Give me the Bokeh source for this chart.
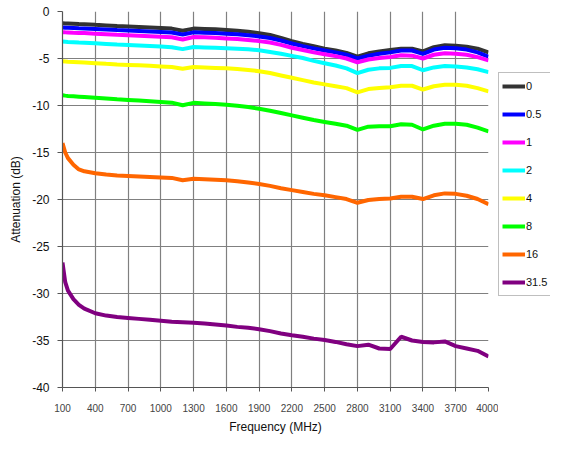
from bokeh.plotting import figure
from bokeh.layouts import row
from bokeh.models import FixedTicker, Legend, LegendItem, ColumnDataSource
from bokeh.embed import file_html
from bokeh.resources import INLINE

freq = [100, 125, 150, 200, 250, 300, 400, 500, 600, 700, 800, 900, 1000, 1100,
        1200, 1300, 1400, 1500, 1600, 1700, 1800, 1900, 2000, 2100, 2200, 2300,
        2400, 2500, 2600, 2700, 2800, 2900, 3000, 3100, 3200, 3300, 3400, 3500,
        3600, 3700, 3800, 3900, 4000]

att_0 = [-1.25, -1.27, -1.28, -1.30, -1.33, -1.35, -1.42, -1.48, -1.55, -1.60, -1.65,
         -1.70, -1.76, -1.82, -2.05, -1.82, -1.85, -1.90, -1.97, -2.05, -2.15, -2.30,
         -2.50, -2.80, -3.15, -3.45, -3.70, -3.95, -4.15, -4.40, -4.80, -4.45, -4.25,
         -4.10, -3.95, -3.95, -4.25, -3.80, -3.60, -3.65, -3.75, -3.95, -4.35]
att_05 = [-1.70, -1.72, -1.73, -1.75, -1.78, -1.80, -1.86, -1.92, -1.98, -2.03, -2.08,
          -2.13, -2.18, -2.24, -2.45, -2.22, -2.25, -2.30, -2.36, -2.43, -2.52, -2.65,
          -2.82, -3.08, -3.40, -3.68, -3.92, -4.15, -4.35, -4.60, -5.00, -4.70, -4.50,
          -4.35, -4.15, -4.15, -4.50, -4.05, -3.85, -3.90, -4.05, -4.35, -4.80]
att_1 = [-2.20, -2.22, -2.23, -2.26, -2.28, -2.30, -2.36, -2.42, -2.48, -2.53, -2.58,
         -2.63, -2.68, -2.74, -2.98, -2.72, -2.75, -2.80, -2.86, -2.93, -3.02, -3.15,
         -3.30, -3.55, -3.85, -4.10, -4.35, -4.55, -4.75, -5.00, -5.40, -5.10, -4.95,
         -4.85, -4.65, -4.70, -5.00, -4.60, -4.45, -4.50, -4.60, -4.85, -5.20]
att_2 = [-3.20, -3.22, -3.24, -3.27, -3.30, -3.32, -3.38, -3.45, -3.52, -3.57, -3.62,
         -3.67, -3.72, -3.80, -4.00, -3.78, -3.82, -3.86, -3.90, -3.95, -4.02, -4.12,
         -4.30, -4.50, -4.72, -4.95, -5.25, -5.50, -5.75, -6.05, -6.55, -6.20, -6.05,
         -6.00, -5.80, -5.80, -6.25, -5.95, -5.80, -5.85, -5.95, -6.15, -6.45]
att_4 = [-5.30, -5.32, -5.34, -5.37, -5.40, -5.43, -5.50, -5.57, -5.63, -5.68, -5.73,
         -5.78, -5.84, -5.90, -6.10, -5.90, -5.95, -6.00, -6.05, -6.12, -6.22, -6.35,
         -6.55, -6.80, -7.05, -7.30, -7.55, -7.75, -7.95, -8.15, -8.60, -8.25, -8.15,
         -8.05, -7.90, -7.90, -8.30, -7.95, -7.80, -7.80, -7.90, -8.15, -8.50]
att_8 = [-8.90, -8.95, -8.98, -9.02, -9.06, -9.10, -9.18, -9.26, -9.34, -9.41, -9.48,
         -9.55, -9.62, -9.70, -9.98, -9.72, -9.78, -9.85, -9.92, -10.02, -10.15, -10.35,
         -10.55, -10.80, -11.05, -11.30, -11.55, -11.75, -11.95, -12.15, -12.60, -12.25,
         -12.20, -12.20, -12.00, -12.05, -12.55, -12.15, -11.95, -11.95, -12.05, -12.35,
         -12.75]
att_16 = [-14.0, -15.0, -15.6, -16.3, -16.8, -17.0, -17.2, -17.35, -17.45, -17.5, -17.55,
          -17.6, -17.65, -17.7, -17.95, -17.8, -17.85, -17.9, -17.95, -18.05, -18.2,
          -18.35, -18.55, -18.8, -19.0, -19.2, -19.4, -19.55, -19.75, -19.95, -20.35,
          -20.05, -19.95, -19.9, -19.7, -19.7, -19.95, -19.55, -19.35, -19.4, -19.6,
          -19.95, -20.5]
att_315 = [-26.7, -28.8, -29.7, -30.6, -31.2, -31.6, -32.1, -32.35, -32.5, -32.6, -32.7,
           -32.8, -32.9, -33.0, -33.05, -33.1, -33.2, -33.3, -33.4, -33.55, -33.65, -33.8,
           -34.0, -34.25, -34.45, -34.6, -34.8, -34.95, -35.15, -35.4, -35.6, -35.45,
           -35.85, -35.9, -34.6, -35.0, -35.15, -35.2, -35.1, -35.6, -35.85, -36.1, -36.7]

labels = ["0", "0.5", "1", "2", "4", "8", "16", "31.5"]
values = [att_0, att_05, att_1, att_2, att_4, att_8, att_16, att_315]
colors = ["#333333", "#0000ff", "#ff00ff", "#00ffff", "#ffff00", "#00ff00", "#ff6600", "#800080"]

x_ticks = list(range(100, 4001, 300))
y_ticks = list(range(-40, 1, 5))
y_tick_labels = {t: str(t) for t in y_ticks}

FONT = "Liberation Sans"

# ---- main chart ----
p = figure(width=498, height=436, output_backend="svg", toolbar_location=None,
           x_range=(100, 4000), y_range=(-40, 0),
           min_border_left=62, min_border_right=10, min_border_top=11, min_border_bottom=48,
           background_fill_color="white", border_fill_color="white")
p.outline_line_color = None

sources = []
for lab, vals, col in zip(labels, values, colors):
    src = ColumnDataSource(dict(x=freq, y=vals))
    sources.append(src)
    p.line("x", "y", source=src, line_color=col, line_width=4)

p.xaxis.ticker = FixedTicker(ticks=x_ticks)
p.yaxis.ticker = FixedTicker(ticks=y_ticks)
p.xgrid.ticker = FixedTicker(ticks=x_ticks)
p.ygrid.ticker = FixedTicker(ticks=y_ticks)
p.yaxis.major_label_overrides = y_tick_labels
p.grid.grid_line_color = "#808080"
p.grid.grid_line_width = 1.2

p.axis.axis_line_color = "#555555"
p.axis.axis_line_width = 1.2
p.axis.major_tick_line_color = "#555555"
p.axis.major_tick_in = 0
p.xaxis.major_tick_out = 4
p.yaxis.major_tick_out = 5
p.axis.minor_tick_line_color = None

p.xaxis.axis_label = "Frequency (MHz)"
p.yaxis.axis_label = "Attenuation (dB)"
p.axis.axis_label_text_font = FONT
p.axis.axis_label_text_font_style = "normal"
p.axis.axis_label_text_font_size = "12px"
p.axis.axis_label_text_color = "#111111"
p.xaxis.axis_label_standoff = 5
p.yaxis.axis_label_standoff = 6

p.xaxis.major_label_text_font = FONT
p.xaxis.major_label_text_font_size = "10px"
p.xaxis.major_label_text_color = "#444444"
p.xaxis.major_label_standoff = 12
p.yaxis.major_label_text_font = FONT
p.yaxis.major_label_text_font_size = "12px"
p.yaxis.major_label_text_color = "#111111"
p.yaxis.major_label_standoff = 8

# ---- legend panel (same series; its ranges keep the lines out of view) ----
lf = figure(width=52, height=436, output_backend="svg", toolbar_location=None,
            x_range=(0, 1), y_range=(0, 1), x_axis_location=None, y_axis_location=None,
            min_border=0, background_fill_color="white", border_fill_color="white")
lf.outline_line_color = None
lf.grid.visible = False

items = []
for lab, src, col in zip(labels, sources, colors):
    r = lf.line("x", "y", source=src, line_color=col, line_width=4)
    items.append(LegendItem(label=lab, renderers=[r]))

legend = Legend(items=items, location=(0, 91), orientation="vertical",
                glyph_width=23, glyph_height=20, label_height=20, spacing=8,
                padding=3, margin=0, label_standoff=1,
                label_text_font=FONT, label_text_font_size="11px",
                label_text_color="#111111",
                border_line_color="#808080", border_line_width=1,
                background_fill_color="white", background_fill_alpha=1)
lf.add_layout(legend, "center")

layout = row(p, lf, spacing=0)

open("out.html", "w").write(file_html(layout, INLINE))
